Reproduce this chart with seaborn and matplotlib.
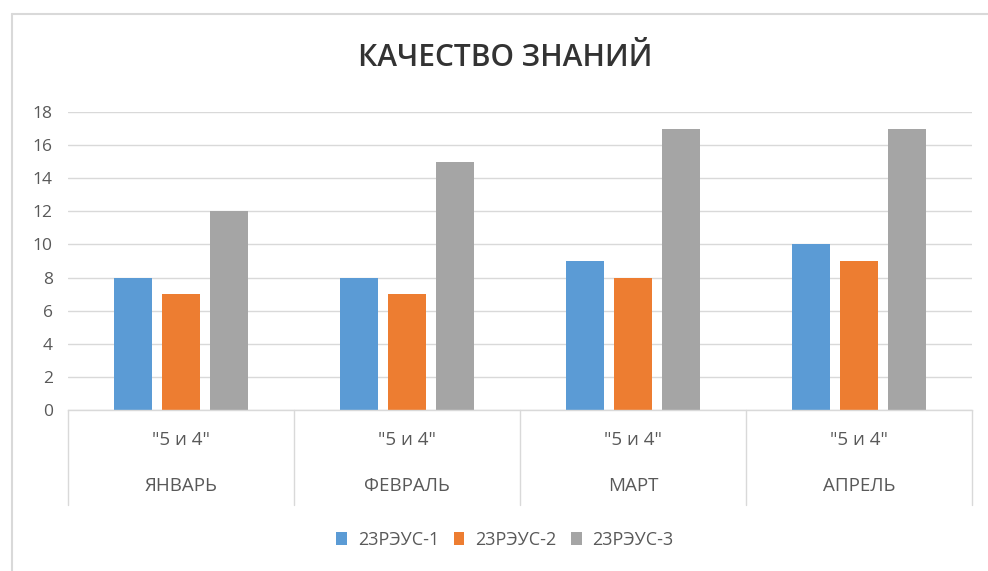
import matplotlib
matplotlib.use("Agg")
import matplotlib.pyplot as plt
import matplotlib.transforms as mtrans
from matplotlib.lines import Line2D
from matplotlib.patches import Patch
import seaborn as sns
import pandas as pd

months = ["ЯНВАРЬ", "ФЕВРАЛЬ", "МАРТ", "АПРЕЛЬ"]
sublabel = '"5 и 4"'
groups = ["23РЭУС-1", "23РЭУС-2", "23РЭУС-3"]
vals_1 = [8, 8, 9, 10]
vals_2 = [7, 7, 8, 9]
vals_3 = [12, 15, 17, 17]
colors = ["#5B9BD5", "#ED7D31", "#A5A5A5"]
yticks = [0, 2, 4, 6, 8, 10, 12, 14, 16, 18]
title = "КАЧЕСТВО ЗНАНИЙ"

rows = []
for g, vals in zip(groups, [vals_1, vals_2, vals_3]):
    for m, v in zip(months, vals):
        rows.append({"month": m, "group": g, "value": v})
df = pd.DataFrame(rows)

sns.set_theme(style="white")
plt.rcParams["font.family"] = ["Open Sans", "DejaVu Sans"]

W, H = 988, 571
fig = plt.figure(figsize=(W / 100, H / 100), dpi=100)
L, R, T, B = 68, 972, 112, 410
ax = fig.add_axes([L / W, 1 - B / H, (R - L) / W, (B - T) / H])

sns.barplot(data=df, x="month", y="value", hue="group", order=months,
            hue_order=groups, palette=colors, saturation=1, width=0.64,
            gap=0.22, legend=False, ax=ax, linewidth=0, edgecolor="none")

ax.set_xlim(-0.5, len(months) - 0.5)
ax.set_ylim(0, 18)
ax.set_yticks(yticks)
ax.set_yticklabels([str(t) for t in yticks], color="#595959", fontsize=12.5)
ax.tick_params(axis="y", length=0, pad=11)
ax.set_xticks([])
ax.set_xlabel("")
ax.set_ylabel("")
ax.grid(axis="y", color="#d9d9d9", linewidth=1)
ax.set_axisbelow(True)
for s in ["top", "right", "left"]:
    ax.spines[s].set_visible(False)
ax.spines["bottom"].set_color("#d9d9d9")
ax.spines["bottom"].set_linewidth(1)

trans = mtrans.blended_transform_factory(ax.transData, ax.transAxes)
axh = B - T
sep_bottom = -(505 - B) / axh
for xs in [i - 0.5 for i in range(len(months) + 1)]:
    ax.add_line(Line2D([xs, xs], [0, sep_bottom], transform=trans,
                       color="#d9d9d9", linewidth=1, clip_on=False))
for i, m in enumerate(months):
    ax.text(i, -(440 - B) / axh, sublabel, transform=trans, ha="center",
            va="center", fontsize=13.5, color="#595959")
    ax.text(i, -(486 - B) / axh, m, transform=trans, ha="center",
            va="center", fontsize=13.5, color="#595959")

fig.text(505 / W, 1 - 58 / H, title, ha="center", va="center",
         fontsize=21.5, fontweight="semibold", color="#333333")

# chart frame
fig.add_artist(Line2D([12 / W, 12 / W], [0, 1 - 14 / H], transform=fig.transFigure,
                      color="#d9d9d9", linewidth=1.5))
fig.add_artist(Line2D([12 / W, 1], [1 - 14 / H, 1 - 14 / H], transform=fig.transFigure,
                      color="#d9d9d9", linewidth=1.5))

handles = [Patch(facecolor=c, edgecolor="none", label=g) for c, g in zip(colors, groups)]
fig.legend(handles=handles, loc="center", bbox_to_anchor=(505 / W, 1 - 540 / H),
           ncol=3, frameon=False, fontsize=13, handlelength=0.6, handleheight=0.75,
           columnspacing=0.8, handletextpad=0.6, labelcolor="#595959")

fig.savefig("out.png", dpi=100, facecolor="white")
